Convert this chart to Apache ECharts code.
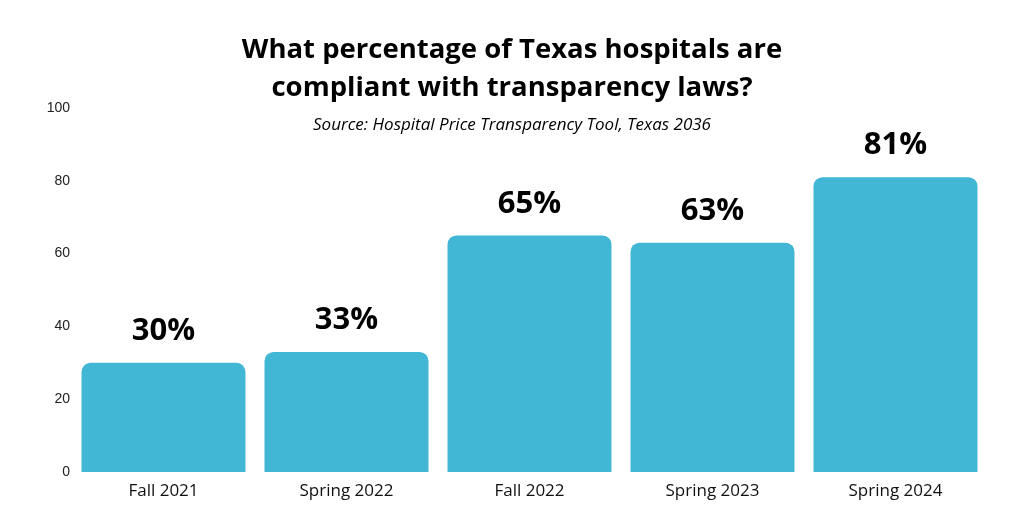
<!DOCTYPE html>
<html>
<head>
<meta charset="utf-8">
<script src="https://cdn.jsdelivr.net/npm/echarts@6/dist/echarts.min.js"></script>
<style>html,body{margin:0;padding:0;background:#fff}#c{width:1024px;height:528px}</style>
</head>
<body>
<div id="c"></div>
<script>
const categories = ["Fall 2021", "Spring 2022", "Fall 2022", "Spring 2023", "Spring 2024"];
const compliance = [30, 33, 65, 63, 81];
const yTicks = [0, 20, 40, 60, 80, 100];
const titleText = "What percentage of Texas hospitals are\ncompliant with transparency laws?";
const subtitleText = "Source: Hospital Price Transparency Tool, Texas 2036";

const chart = echarts.init(document.getElementById('c'));
chart.setOption({
  backgroundColor: '#ffffff',
  animation: false,
  title: [
    { text: titleText, left: 'center', top: 26,
      textStyle: { fontFamily: 'Open Sans', fontWeight: 'bold', fontSize: 27.5, lineHeight: 38, color: '#000' } },
    { text: subtitleText, left: 'center', top: 110,
      textStyle: { fontFamily: 'Open Sans', fontStyle: 'italic', fontWeight: 'normal', fontSize: 17, lineHeight: 20, color: '#000' } }
  ],
  grid: { left: 72, right: 37, top: 108, bottom: 56, containLabel: false, outerBoundsMode: 'none' },
  xAxis: {
    type: 'category', data: categories,
    axisLine: { show: false }, axisTick: { show: false },
    axisLabel: { fontFamily: 'Open Sans', fontSize: 17, color: '#111', margin: 11 }
  },
  yAxis: {
    type: 'value', min: yTicks[0], max: yTicks[yTicks.length - 1], interval: 20,
    splitLine: { show: false }, axisLine: { show: false }, axisTick: { show: false },
    axisLabel: { fontFamily: 'Liberation Sans', fontSize: 14, color: '#222', margin: 2 }
  },
  series: [{
    type: 'bar', data: compliance, barCategoryGap: '10.4%',
    itemStyle: { color: '#41B6D5', borderRadius: [9, 9, 0, 0] },
    label: { show: true, position: 'top', distance: 16, formatter: '{c}%',
      fontFamily: 'Open Sans', fontWeight: 'bold', fontSize: 31, color: '#000' }
  }]
});
</script>
</body>
</html>
